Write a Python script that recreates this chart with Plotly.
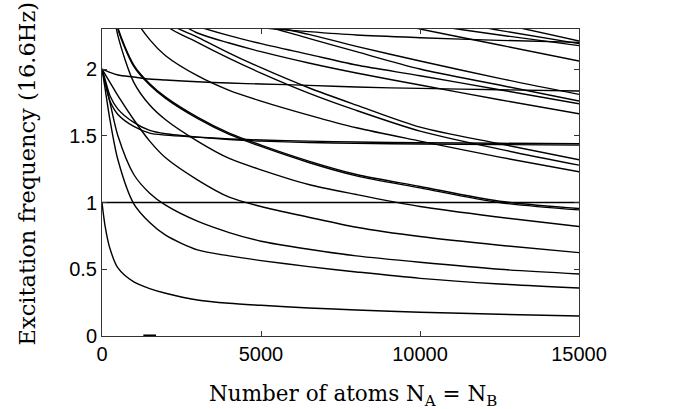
import plotly.graph_objects as go

# Sample positions along the x axis (number of atoms)
XS = [0, 100, 250, 500, 1000, 1500, 2000, 3000, 4000, 5000, 6500, 8000, 10000, 12500, 15000]

# Out-of-phase (spin-like) modes
mode_L1 = [1.0, 0.82, 0.655, 0.51, 0.405, 0.355, 0.32, 0.27, 0.245, 0.23, 0.21, 0.195, 0.178, 0.163, 0.15]
mode_C = [2.0, 1.85, 1.62, 1.32, 0.99, 0.85, 0.755, 0.645, 0.60, 0.565, 0.52, 0.48, 0.432, 0.39, 0.36]
mode_D = [2.0, 1.9, 1.75, 1.5, 1.21, 1.07, 0.98, 0.86, 0.775, 0.71, 0.65, 0.60, 0.552, 0.50, 0.465]
mode_E = [2.0, 1.96, 1.9, 1.8, 1.62, 1.46, 1.335, 1.17, 1.04, 0.97, 0.89, 0.815, 0.745, 0.68, 0.625]
mode_F = [3.0, 2.85, 2.6, 2.25, 1.9, 1.73, 1.62, 1.46, 1.33, 1.245, 1.135, 1.06, 0.97, 0.89, 0.82]
mode_G1 = [3.0, 2.85, 2.62, 2.3, 2.02, 1.88, 1.78, 1.63, 1.51, 1.42, 1.30, 1.20, 1.11, 1.0, 0.945]
mode_G2 = [3.0, 2.86, 2.63, 2.31, 2.03, 1.89, 1.79, 1.64, 1.52, 1.43, 1.31, 1.21, 1.12, 1.01, 0.955]

# In-phase modes
mode_dipole = [1.0, 1.0, 1.0, 1.0, 1.0, 1.0, 1.0, 1.0, 1.0, 1.0, 1.0, 1.0, 1.0, 1.0, 1.0]
mode_P = [2.0, 1.99, 1.975, 1.955, 1.94, 1.925, 1.918, 1.905, 1.895, 1.888, 1.878, 1.865, 1.855, 1.845, 1.835]
mode_Q1 = [2.0, 1.9, 1.76, 1.66, 1.57, 1.52, 1.505, 1.49, 1.477, 1.468, 1.46, 1.453, 1.448, 1.444, 1.44]
mode_Q2 = [2.0, 1.92, 1.8, 1.7, 1.6, 1.54, 1.515, 1.49, 1.472, 1.46, 1.45, 1.443, 1.438, 1.434, 1.43]
mode_R = [3.2, 3.1, 3.0, 2.85, 2.72, 2.62, 2.47, 2.38, 2.34, 2.31, 2.28, 2.255, 2.235, 2.215, 2.2]

# Higher modes entering from above
mode_U1 = [3.4, 3.3, 3.15, 2.9, 2.4, 2.22, 2.1, 1.95, 1.84, 1.76, 1.655, 1.56, 1.46, 1.34, 1.23]
mode_U2 = [3.8, 3.7, 3.55, 3.3, 2.85, 2.55, 2.33, 2.2, 2.08, 1.97, 1.82, 1.69, 1.535, 1.40, 1.28]
mode_U3 = [3.9, 3.8, 3.65, 3.4, 2.95, 2.62, 2.36, 2.24, 2.12, 2.01, 1.86, 1.73, 1.565, 1.44, 1.32]
mode_U4 = [2.75, 2.72, 2.68, 2.62, 2.52, 2.45, 2.4, 2.27, 2.195, 2.13, 2.045, 1.97, 1.88, 1.77, 1.665]
mode_U5 = [2.64, 2.62, 2.6, 2.56, 2.5, 2.45, 2.4, 2.32, 2.25, 2.19, 2.11, 2.03, 1.95, 1.845, 1.74]
mode_U6 = [2.7, 2.68, 2.67, 2.65, 2.61, 2.57, 2.53, 2.46, 2.39, 2.33, 2.23, 2.13, 2.0, 1.88, 1.76]
mode_U7 = [2.72, 2.71, 2.7, 2.68, 2.64, 2.6, 2.56, 2.49, 2.42, 2.34, 2.26, 2.17, 2.06, 1.93, 1.81]
mode_U8 = [2.8, 2.79, 2.78, 2.76, 2.72, 2.68, 2.65, 2.6, 2.55, 2.5, 2.45, 2.4, 2.3, 2.18, 2.06]
mode_U9 = [2.8, 2.79, 2.78, 2.77, 2.74, 2.71, 2.68, 2.62, 2.56, 2.51, 2.46, 2.4, 2.34, 2.255, 2.175]
mode_U10 = [2.85, 2.84, 2.83, 2.82, 2.79, 2.76, 2.73, 2.68, 2.62, 2.57, 2.52, 2.46, 2.4, 2.29, 2.19]
mode_U11 = [2.95, 2.94, 2.93, 2.92, 2.89, 2.86, 2.83, 2.77, 2.71, 2.65, 2.58, 2.52, 2.45, 2.34, 2.21]

# short segment lying on the axis
zero_x = [1300, 1700]
zero_y = [0.004, 0.004]

x_ticks = [0, 5000, 10000, 15000]
y_ticks = [0, 0.5, 1, 1.5, 2]
y_tick_text = ["0", "0.5", "1", "1.5", "2"]

x_title = "Number of atoms N<sub>A</sub> = N<sub>B</sub>"
y_title = "Excitation frequency (16.6Hz)"

all_modes = [mode_L1, mode_C, mode_D, mode_E, mode_F, mode_G1, mode_G2,
             mode_dipole, mode_P, mode_Q1, mode_Q2, mode_R,
             mode_U1, mode_U2, mode_U3, mode_U4, mode_U5, mode_U6,
             mode_U7, mode_U8, mode_U9, mode_U10, mode_U11]

fig = go.Figure()
for ys in all_modes:
    fig.add_trace(go.Scatter(x=XS, y=ys, mode="lines",
                             line=dict(color="black", width=1.4, shape="spline", smoothing=0.8),
                             showlegend=False, hoverinfo="skip"))
fig.add_trace(go.Scatter(x=zero_x, y=zero_y, mode="lines",
                         line=dict(color="black", width=2), showlegend=False, hoverinfo="skip"))

axis_common = dict(showline=True, linecolor="#333333", linewidth=1, mirror="ticks",
                   ticks="inside", ticklen=5, tickcolor="#333333", showgrid=False,
                   zeroline=False, automargin=False,
                   tickfont=dict(family="Liberation Sans, Arial", size=20, color="black"))

title_font = dict(family="DejaVu Serif", size=21.5, color="black")

fig.update_layout(
    width=673, height=409,
    margin=dict(l=102, r=94, t=29, b=73),
    paper_bgcolor="white", plot_bgcolor="white",
    xaxis=dict(range=[0, 15000], tickvals=x_ticks, ticktext=[str(v) for v in x_ticks], **axis_common),
    yaxis=dict(range=[0, 2.3], tickvals=y_ticks, ticktext=y_tick_text, **axis_common),
    annotations=[
        dict(text=x_title, xref="paper", yref="paper", x=0.526, y=-0.195,
             xanchor="center", yanchor="middle", showarrow=False, font=title_font),
        dict(text=y_title, xref="paper", yref="paper", x=-0.157, y=0.53,
             xanchor="center", yanchor="middle", textangle=-90, showarrow=False,
             font=dict(family="DejaVu Serif", size=22.5, color="black")),
    ],
)

fig.write_html("out.html")
